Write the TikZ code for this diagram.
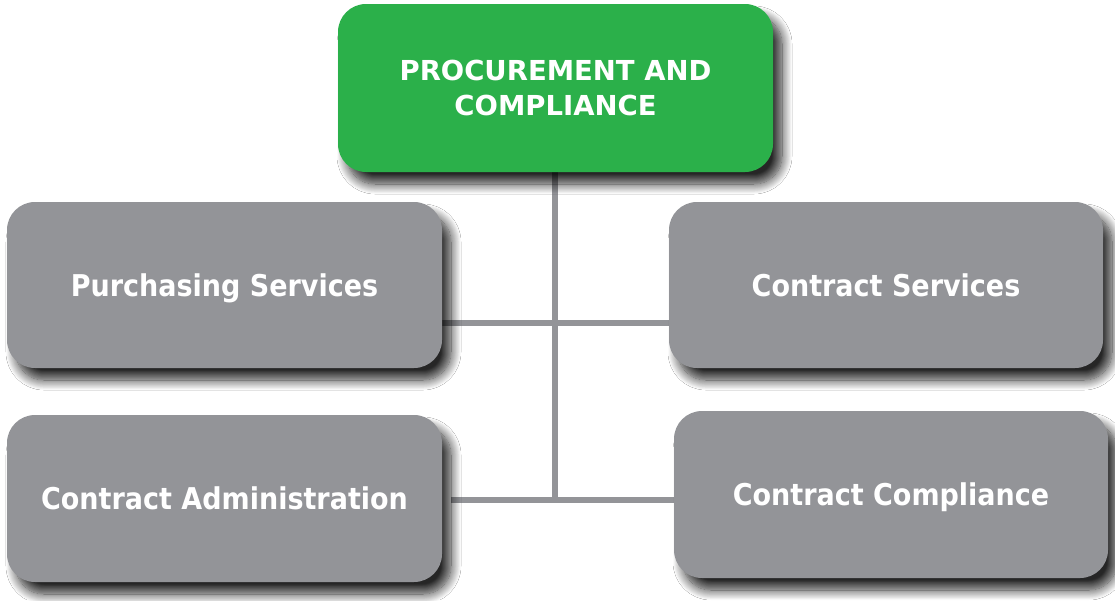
\documentclass[tikz,border=0pt]{standalone}
\usepackage{fontspec}
\setmainfont{DejaVu Sans}[BoldFont={DejaVu Sans Bold}]
\newfontfamily\narrowbold{DejaVu Sans Bold}[FakeStretch=0.9]
\usetikzlibrary{shadows.blur,backgrounds}
\definecolor{boxgreen}{RGB}{43,176,74}
\definecolor{boxgray}{RGB}{147,148,152}
\definecolor{linegray}{RGB}{147,148,152}
\begin{document}
\begin{tikzpicture}[x=1pt,y=-1pt,
  orgbox/.style={rectangle, rounded corners=28pt, inner sep=0pt, text=white,
    align=center,
    blur shadow={shadow xshift=9pt, shadow yshift=-12pt, shadow blur radius=10pt, shadow blur steps=14, shadow opacity=85}},
  graybox/.style={orgbox, fill=boxgray, font=\narrowbold\fontsize{30}{36}\selectfont,
    text height=22pt, text depth=0pt},
  greenbox/.style={orgbox, fill=boxgreen, font=\bfseries\fontsize{27.5}{35}\selectfont},
  link/.style={draw=linegray, line width=6pt}]
\useasboundingbox (0,0) rectangle (1115,600);
\coordinate (j1) at (555,323);
\coordinate (j2) at (555,500);
\node[greenbox, minimum width=435pt, minimum height=168pt] (top) at (555.5,88) {PROCUREMENT AND\\COMPLIANCE};
\node[graybox, minimum width=435pt, minimum height=166pt] (purch) at (224.5,285) {Purchasing Services};
\node[graybox, minimum width=434pt, minimum height=166pt] (cserv) at (886,285) {Contract Services};
\node[graybox, minimum width=435pt, minimum height=167pt] (cadmin) at (224.5,498.5) {Contract Administration};
\node[graybox, minimum width=434pt, minimum height=167pt] (ccomp) at (891,494.5) {Contract Compliance};
\begin{scope}[on background layer]
\fill[white] (0,0) rectangle (1115,600);
\path[link] (top.south -| j1) -- (j2);
\path[link] (purch.east |- j1) -- (cserv.west |- j1);
\path[link] ([xshift=9pt]cadmin.east |- j2) -- (ccomp.west |- j2);
\end{scope}
\end{tikzpicture}
\end{document}
